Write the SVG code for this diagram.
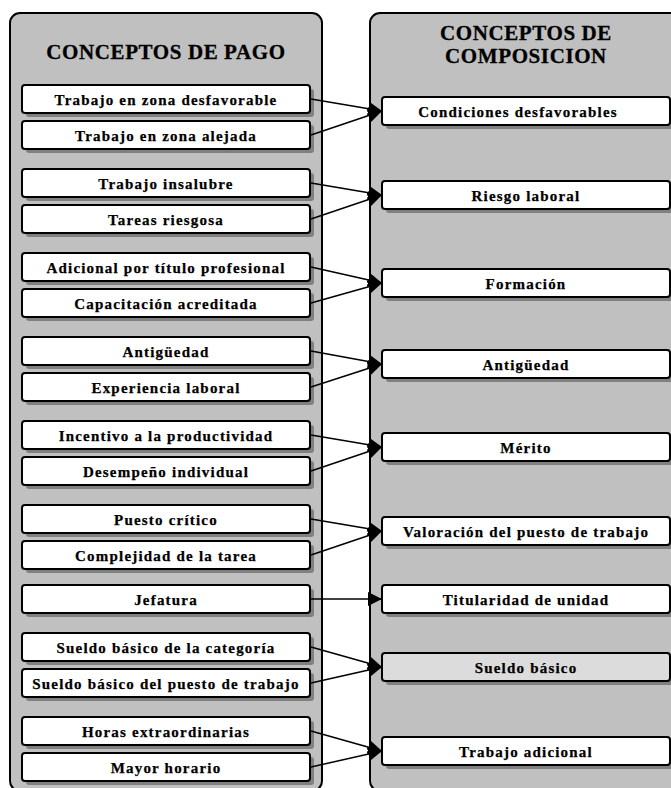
<svg xmlns="http://www.w3.org/2000/svg" width="671" height="788" viewBox="0 0 671 788">
  <style>
    .panel { fill: #c0c0c0; stroke: #000; stroke-width: 2; }
    .box { fill: #fff; stroke: #000; stroke-width: 2; }
    .box.alt { fill: #dcdcdc; }
    .shadow { fill: #808080; }
    .title { font-family: "Liberation Serif", "Times New Roman", serif; font-weight: bold; font-size: 21px; fill: #000; stroke: #000; stroke-width: 0.3; text-anchor: middle; letter-spacing: 0.6px; }
    .label { font-family: "Liberation Serif", "Times New Roman", serif; font-weight: bold; font-size: 15px; fill: #000; stroke: #000; stroke-width: 0.25; text-anchor: middle; letter-spacing: 1.2px; }
    .link { fill: none; stroke: #000; stroke-width: 1.5; }
  </style>
  <defs>
    <marker id="arrow" markerUnits="userSpaceOnUse" markerWidth="14" markerHeight="14" refX="14" refY="7" orient="auto">
      <path d="M0,0 L14,7 L0,14 z" fill="#000"/>
    </marker>
  </defs>

  <rect width="671" height="788" fill="#fff"/>

  <!-- column panels -->
  <g id="panel-pago">
    <rect class="panel" x="10" y="13" width="312" height="778" rx="10"/>
    <text class="title" x="166" y="59">CONCEPTOS DE PAGO</text>
  </g>
  <g id="panel-composicion">
    <rect class="panel" x="370" y="13" width="320" height="778" rx="10"/>
    <text class="title" x="526" y="40">CONCEPTOS DE</text>
    <text class="title" x="526" y="63">COMPOSICION</text>
  </g>

  <!-- payment concepts -->
  <g id="pago-zona-desfavorable"><rect class="shadow" x="26" y="89" width="288" height="28" rx="3"/><rect class="box" x="22" y="85" width="288" height="28" rx="3"/><text class="label" x="166" y="105">Trabajo en zona desfavorable</text></g>
  <g id="pago-zona-alejada"><rect class="shadow" x="26" y="125" width="288" height="28" rx="3"/><rect class="box" x="22" y="121" width="288" height="28" rx="3"/><text class="label" x="166" y="141">Trabajo en zona alejada</text></g>
  <g id="pago-insalubre"><rect class="shadow" x="26" y="173" width="288" height="28" rx="3"/><rect class="box" x="22" y="169" width="288" height="28" rx="3"/><text class="label" x="166" y="189">Trabajo insalubre</text></g>
  <g id="pago-riesgosa"><rect class="shadow" x="26" y="209" width="288" height="28" rx="3"/><rect class="box" x="22" y="205" width="288" height="28" rx="3"/><text class="label" x="166" y="225">Tareas riesgosa</text></g>
  <g id="pago-titulo"><rect class="shadow" x="26" y="257" width="288" height="28" rx="3"/><rect class="box" x="22" y="253" width="288" height="28" rx="3"/><text class="label" x="166" y="273">Adicional por título profesional</text></g>
  <g id="pago-capacitacion"><rect class="shadow" x="26" y="293" width="288" height="28" rx="3"/><rect class="box" x="22" y="289" width="288" height="28" rx="3"/><text class="label" x="166" y="309">Capacitación acreditada</text></g>
  <g id="pago-antiguedad"><rect class="shadow" x="26" y="341" width="288" height="28" rx="3"/><rect class="box" x="22" y="337" width="288" height="28" rx="3"/><text class="label" x="166" y="357">Antigüedad</text></g>
  <g id="pago-experiencia"><rect class="shadow" x="26" y="377" width="288" height="28" rx="3"/><rect class="box" x="22" y="373" width="288" height="28" rx="3"/><text class="label" x="166" y="393">Experiencia laboral</text></g>
  <g id="pago-incentivo"><rect class="shadow" x="26" y="425" width="288" height="28" rx="3"/><rect class="box" x="22" y="421" width="288" height="28" rx="3"/><text class="label" x="166" y="441">Incentivo a la productividad</text></g>
  <g id="pago-desempeno"><rect class="shadow" x="26" y="461" width="288" height="28" rx="3"/><rect class="box" x="22" y="457" width="288" height="28" rx="3"/><text class="label" x="166" y="477">Desempeño individual</text></g>
  <g id="pago-puesto-critico"><rect class="shadow" x="26" y="509" width="288" height="28" rx="3"/><rect class="box" x="22" y="505" width="288" height="28" rx="3"/><text class="label" x="166" y="525">Puesto crítico</text></g>
  <g id="pago-complejidad"><rect class="shadow" x="26" y="545" width="288" height="28" rx="3"/><rect class="box" x="22" y="541" width="288" height="28" rx="3"/><text class="label" x="166" y="561">Complejidad de la tarea</text></g>
  <g id="pago-jefatura"><rect class="shadow" x="26" y="589" width="288" height="28" rx="3"/><rect class="box" x="22" y="585" width="288" height="28" rx="3"/><text class="label" x="166" y="605">Jefatura</text></g>
  <g id="pago-sueldo-categoria"><rect class="shadow" x="26" y="637" width="288" height="28" rx="3"/><rect class="box" x="22" y="633" width="288" height="28" rx="3"/><text class="label" x="166" y="653">Sueldo básico de la categoría</text></g>
  <g id="pago-sueldo-puesto"><rect class="shadow" x="26" y="673" width="288" height="28" rx="3"/><rect class="box" x="22" y="669" width="288" height="28" rx="3"/><text class="label" x="166" y="689">Sueldo básico del puesto de trabajo</text></g>
  <g id="pago-horas-extra"><rect class="shadow" x="26" y="721" width="288" height="28" rx="3"/><rect class="box" x="22" y="717" width="288" height="28" rx="3"/><text class="label" x="166" y="737">Horas extraordinarias</text></g>
  <g id="pago-mayor-horario"><rect class="shadow" x="26" y="757" width="288" height="28" rx="3"/><rect class="box" x="22" y="753" width="288" height="28" rx="3"/><text class="label" x="166" y="773">Mayor horario</text></g>

  <!-- composition concepts -->
  <g id="comp-condiciones"><rect class="shadow" x="386" y="101" width="288" height="28" rx="3"/><rect class="box" x="382" y="97" width="288" height="28" rx="3"/><text class="label" x="518" y="117">Condiciones desfavorables</text></g>
  <g id="comp-riesgo"><rect class="shadow" x="386" y="185" width="288" height="28" rx="3"/><rect class="box" x="382" y="181" width="288" height="28" rx="3"/><text class="label" x="526" y="201">Riesgo laboral</text></g>
  <g id="comp-formacion"><rect class="shadow" x="386" y="273" width="288" height="28" rx="3"/><rect class="box" x="382" y="269" width="288" height="28" rx="3"/><text class="label" x="526" y="289">Formación</text></g>
  <g id="comp-antiguedad"><rect class="shadow" x="386" y="354" width="288" height="28" rx="3"/><rect class="box" x="382" y="350" width="288" height="28" rx="3"/><text class="label" x="526" y="370">Antigüedad</text></g>
  <g id="comp-merito"><rect class="shadow" x="386" y="437" width="288" height="28" rx="3"/><rect class="box" x="382" y="433" width="288" height="28" rx="3"/><text class="label" x="526" y="453">Mérito</text></g>
  <g id="comp-valoracion"><rect class="shadow" x="386" y="521" width="288" height="28" rx="3"/><rect class="box" x="382" y="517" width="288" height="28" rx="3"/><text class="label" x="526" y="537">Valoración del puesto de trabajo</text></g>
  <g id="comp-titularidad"><rect class="shadow" x="386" y="589" width="288" height="28" rx="3"/><rect class="box" x="382" y="585" width="288" height="28" rx="3"/><text class="label" x="526" y="605">Titularidad de unidad</text></g>
  <g id="comp-sueldo-basico"><rect class="shadow" x="386" y="657" width="288" height="28" rx="3"/><rect class="box alt" x="382" y="653" width="288" height="28" rx="3"/><text class="label" x="526" y="673">Sueldo básico</text></g>
  <g id="comp-trabajo-adicional"><rect class="shadow" x="386" y="741" width="288" height="28" rx="3"/><rect class="box" x="382" y="737" width="288" height="28" rx="3"/><text class="label" x="526" y="757">Trabajo adicional</text></g>

  <!-- connectors -->
  <g id="connectors">
    <line class="link" x1="311" y1="99" x2="382" y2="111" marker-end="url(#arrow)"/>
    <line class="link" x1="311" y1="135" x2="382" y2="111" marker-end="url(#arrow)"/>
    <line class="link" x1="311" y1="183" x2="382" y2="195" marker-end="url(#arrow)"/>
    <line class="link" x1="311" y1="219" x2="382" y2="195" marker-end="url(#arrow)"/>
    <line class="link" x1="311" y1="267" x2="382" y2="283" marker-end="url(#arrow)"/>
    <line class="link" x1="311" y1="303" x2="382" y2="283" marker-end="url(#arrow)"/>
    <line class="link" x1="311" y1="351" x2="382" y2="364" marker-end="url(#arrow)"/>
    <line class="link" x1="311" y1="387" x2="382" y2="364" marker-end="url(#arrow)"/>
    <line class="link" x1="311" y1="435" x2="382" y2="447" marker-end="url(#arrow)"/>
    <line class="link" x1="311" y1="471" x2="382" y2="447" marker-end="url(#arrow)"/>
    <line class="link" x1="311" y1="519" x2="382" y2="531" marker-end="url(#arrow)"/>
    <line class="link" x1="311" y1="555" x2="382" y2="531" marker-end="url(#arrow)"/>
    <line class="link" x1="311" y1="599" x2="382" y2="599" marker-end="url(#arrow)"/>
    <line class="link" x1="311" y1="647" x2="382" y2="667" marker-end="url(#arrow)"/>
    <line class="link" x1="311" y1="683" x2="382" y2="667" marker-end="url(#arrow)"/>
    <line class="link" x1="311" y1="731" x2="382" y2="751" marker-end="url(#arrow)"/>
    <line class="link" x1="311" y1="767" x2="382" y2="751" marker-end="url(#arrow)"/>
  </g>
</svg>
